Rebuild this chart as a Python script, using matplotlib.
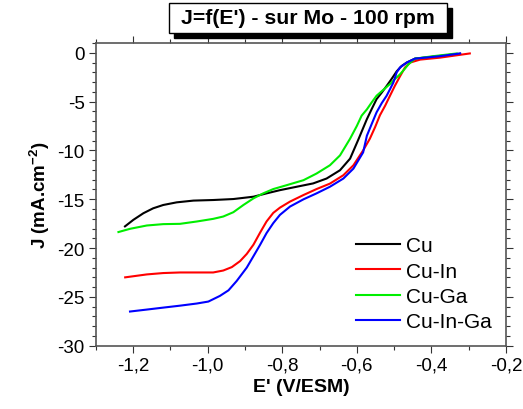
import matplotlib
matplotlib.use("Agg")
import matplotlib.pyplot as plt
from matplotlib.ticker import MultipleLocator, FuncFormatter

plt.rcParams['font.family'] = ['Liberation Sans', 'DejaVu Sans']
plt.rcParams['axes.unicode_minus'] = False

title = "J=f(E') - sur Mo - 100 rpm"
xlabel = "E' (V/ESM)"
ylabel = "J (mA.cm$^{\\mathregular{-2}}$)"

cu_E = [-1.2215, -1.199, -1.172, -1.146, -1.119, -1.083, -1.038, -0.985, -0.931, -0.877,
        -0.842, -0.806, -0.761, -0.717, -0.681, -0.645, -0.618, -0.596, -0.573, -0.560,
        -0.547, -0.533, -0.520, -0.506, -0.493, -0.480, -0.466, -0.444, -0.395, -0.323]
cu_J = [-17.78, -17.11, -16.43, -15.93, -15.59, -15.32, -15.14, -15.08, -14.98, -14.74,
        -14.4, -14.07, -13.72, -13.38, -12.88, -12.03, -10.84, -8.9, -6.8, -5.76,
        -4.75, -4.07, -3.4, -2.64, -1.9, -1.36, -1.0, -0.6, -0.4, -0.1]

cuin_E = [-1.221, -1.163, -1.119, -1.074, -1.029, -0.985, -0.958, -0.935, -0.913, -0.895,
          -0.877, -0.859, -0.842, -0.824, -0.806, -0.779, -0.743, -0.708, -0.672, -0.636,
          -0.609, -0.583, -0.565, -0.551, -0.538, -0.524, -0.511, -0.498, -0.484, -0.471,
          -0.457, -0.430, -0.377, -0.297]
cuin_J = [-23.0, -22.7, -22.56, -22.5, -22.5, -22.5, -22.3, -21.95, -21.34, -20.6,
          -19.65, -18.4, -17.28, -16.4, -15.86, -15.24, -14.57, -13.96, -13.4, -12.54,
          -11.52, -10.0, -8.8, -7.62, -6.4, -5.42, -4.4, -3.39, -2.4, -1.52,
          -1.0, -0.7, -0.5, -0.07]

cuga_E = [-1.239, -1.208, -1.163, -1.119, -1.074, -1.029, -0.985, -0.958, -0.931, -0.904,
          -0.877, -0.851, -0.824, -0.788, -0.743, -0.708, -0.672, -0.645, -0.618, -0.600,
          -0.587, -0.573, -0.560, -0.547, -0.529, -0.511, -0.498, -0.484, -0.471, -0.462,
          -0.444, -0.395, -0.332]
cuga_J = [-18.36, -18.03, -17.69, -17.55, -17.52, -17.28, -17.01, -16.77, -16.33, -15.59,
          -14.91, -14.4, -13.96, -13.56, -13.05, -12.37, -11.52, -10.51, -8.8, -7.5,
          -6.44, -5.8, -5.08, -4.4, -3.8, -3.2, -2.71, -2.2, -1.63, -1.2,
          -0.6, -0.35, -0.07]

cuinga_E = [-1.208, -1.163, -1.119, -1.074, -1.029, -0.998, -0.967, -0.944, -0.922, -0.895,
            -0.877, -0.859, -0.842, -0.824, -0.806, -0.779, -0.743, -0.708, -0.672, -0.636,
            -0.609, -0.583, -0.573, -0.560, -0.547, -0.533, -0.520, -0.511, -0.502, -0.493,
            -0.484, -0.466, -0.444, -0.377, -0.323]
cuinga_J = [-26.5, -26.3, -26.1, -25.9, -25.68, -25.48, -24.9, -24.33, -23.37, -22.0,
            -20.83, -19.65, -18.47, -17.45, -16.6, -15.75, -15.01, -14.4, -13.72, -12.88,
            -11.86, -10.2, -8.5, -7.29, -6.1, -5.15, -4.4, -3.73, -3.05, -2.0,
            -1.5, -1.0, -0.6, -0.35, -0.07]

series = [("Cu", cu_E, cu_J, "#000000"),
          ("Cu-In", cuin_E, cuin_J, "#ff0000"),
          ("Cu-Ga", cuga_E, cuga_J, "#00ee00"),
          ("Cu-In-Ga", cuinga_E, cuinga_J, "#0000ff")]

fig = plt.figure(figsize=(5.23, 4.10), dpi=100)
ax = fig.add_axes([95.7/523, 1-346.7/410, (506-95.7)/523, (346.7-44)/410])

for name, E, J, c in series:
    ax.plot(E, J, color=c, lw=1.5, label=name, solid_joinstyle='round')

ax.set_xlim(-1.3, -0.2)
ax.set_ylim(-30, 1)
ax.xaxis.set_major_locator(MultipleLocator(0.2))
ax.xaxis.set_minor_locator(MultipleLocator(0.1))
ax.yaxis.set_major_locator(MultipleLocator(5))
ax.yaxis.set_minor_locator(MultipleLocator(1))
ax.xaxis.set_major_formatter(FuncFormatter(lambda v, p: ("%.1f" % v).replace('.', ',')))
ax.yaxis.set_major_formatter(FuncFormatter(lambda v, p: "%d" % round(v)))
ax.tick_params(which='both', direction='out', top=True, right=True, labelsize=13.5,
               color='#333333', width=0.8)
ax.tick_params(which='major', length=5, pad=3)
ax.tick_params(which='minor', length=3)
for s in ax.spines.values():
    s.set_color('#555555')
    s.set_linewidth(1.2)

ax.set_xlabel(xlabel, fontsize=14, fontweight='bold', labelpad=3)
ax.set_ylabel(ylabel, fontsize=13.5, fontweight='bold', labelpad=4)

leg = ax.legend(loc='lower right', bbox_to_anchor=(1.0, 0.0), frameon=False,
                fontsize=15, handlelength=2.15, handletextpad=0.25, labelspacing=0.3,
                borderaxespad=0.3)

# title box with shadow
x0, y0, x1, y1 = 169/523, 1-34/410, 447/523, 1-4/410
sh = 5/523, 5/410
fig.patches.append(plt.Rectangle((x0+sh[0], y0-sh[1]), x1-x0, y1-y0, transform=fig.transFigure,
                                 facecolor='black', edgecolor='black', zorder=1))
fig.patches.append(plt.Rectangle((x0, y0), x1-x0, y1-y0, transform=fig.transFigure,
                                 facecolor='white', edgecolor='black', lw=1, zorder=2))
fig.text((x0+x1)/2, (y0+y1)/2, title, ha='center', va='center', fontsize=15.3,
         fontweight='bold', zorder=3)

fig.savefig("out.png", dpi=100)
